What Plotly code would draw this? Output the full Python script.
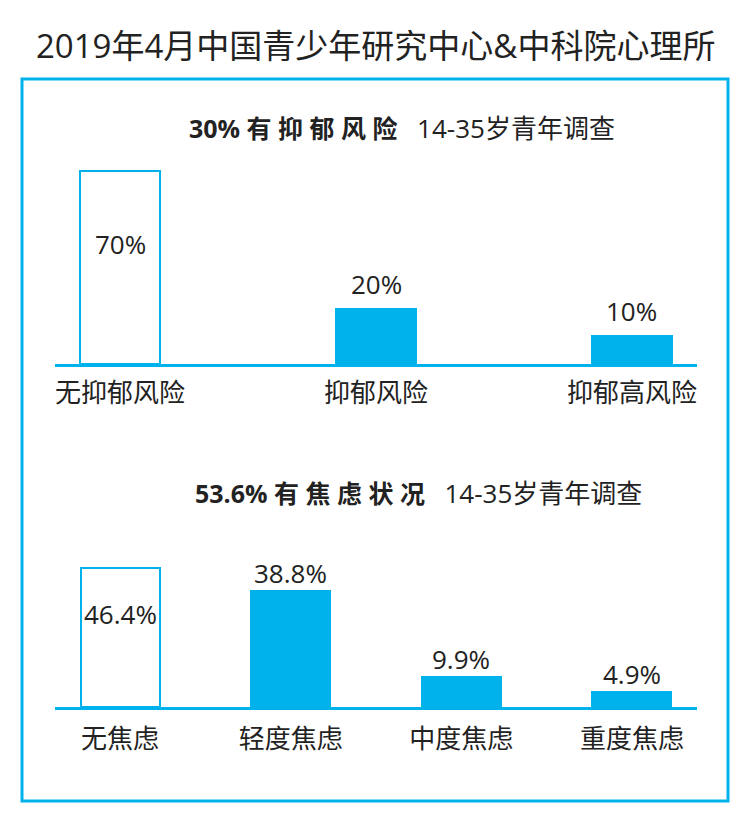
import plotly.graph_objects as go

# data
risk_cats = ["无抑郁风险", "抑郁风险", "抑郁高风险"]
risk_vals = [70, 20, 10]
anx_cats = ["无焦虑", "轻度焦虑", "中度焦虑", "重度焦虑"]
anx_vals = [46.4, 38.8, 9.9, 4.9]

title = "2019年4月中国青少年研究中心&中科院心理所"
risk_head = "30% 有 抑 郁 风 险"
anx_head = "53.6% 有 焦 虑 状 况"
survey = "14-35岁青年调查"

BLUE = "#00B2EB"
DARK = "#222222"
FONT = "Open Sans, Noto Sans CJK SC, sans-serif"
W, H = 750, 826
OFF = 8  # page body margin


def px(x):
    return (x - OFF) / W


def py(y):
    return 1 - (y - OFF) / H


fig = go.Figure()


def add_bars(cats, vals, xa, ya, width):
    fill = ["white"] + [BLUE] * (len(vals) - 1)
    fig.add_trace(go.Bar(
        x=list(range(len(cats))), y=vals, xaxis=xa, yaxis=ya,
        width=width,
        marker=dict(color=fill, line=dict(color=BLUE, width=2)),
        showlegend=False, hoverinfo="skip",
    ))
    for i, v in enumerate(vals):
        shift = -73 if i == 0 else 25
        if ya == "y2":
            shift = -46 if i == 0 else 18
        fig.add_annotation(
            x=i, y=v, xref=xa, yref=ya, text=f"{v:g}%",
            showarrow=False, yanchor="middle", yshift=shift,
            font=dict(size=26, color=DARK, family=FONT),
        )


add_bars(risk_cats, risk_vals, "x", "y", 0.3125)
add_bars(anx_cats, anx_vals, "x2", "y2", 0.463)

axis_common = dict(
    showgrid=False, zeroline=False, showline=True, linecolor=BLUE,
    linewidth=3, ticks="",
    tickfont=dict(size=26, color=DARK, family=FONT),
)

fig.update_layout(
    width=W, height=H,
    margin=dict(l=0, r=0, t=0, b=0),
    paper_bgcolor="white", plot_bgcolor="white",
    bargap=0,
    xaxis=dict(domain=[px(55), px(697)], range=[-0.254, 2.254],
               tickvals=list(range(len(risk_cats))), ticktext=risk_cats,
               anchor="y", ticklabelstandoff=4, **axis_common),
    yaxis=dict(domain=[py(364), py(150)], range=[0, 77.8], visible=False,
               anchor="x"),
    xaxis2=dict(domain=[px(55), px(697)], range=[-0.381, 3.381],
                tickvals=list(range(len(anx_cats))), ticktext=anx_cats,
                anchor="y2", ticklabelstandoff=7, **axis_common),
    yaxis2=dict(domain=[py(707), py(540)], range=[0, 55.7], visible=False,
                anchor="x2"),
    shapes=[dict(type="rect", xref="paper", yref="paper",
                 x0=px(22), x1=px(728), y0=py(801), y1=py(79),
                 line=dict(color=BLUE, width=3), fillcolor="rgba(0,0,0,0)")],
)

fig.add_annotation(
    x=px(375), y=py(45), xref="paper", yref="paper", text=title,
    showarrow=False, xanchor="center", yanchor="middle",
    font=dict(size=33, color=DARK, family=FONT),
)

for head, cx, cy in [(risk_head, 402, 128), (anx_head, 418, 493)]:
    fig.add_annotation(
        x=px(cx), y=py(cy), xref="paper", yref="paper",
        text=f"<b>{head}</b>   <span style='font-size:26px'>{survey}</span>",
        showarrow=False, xanchor="center", yanchor="middle",
        font=dict(size=25, color=DARK, family=FONT),
    )

fig.write_html("out.html")
